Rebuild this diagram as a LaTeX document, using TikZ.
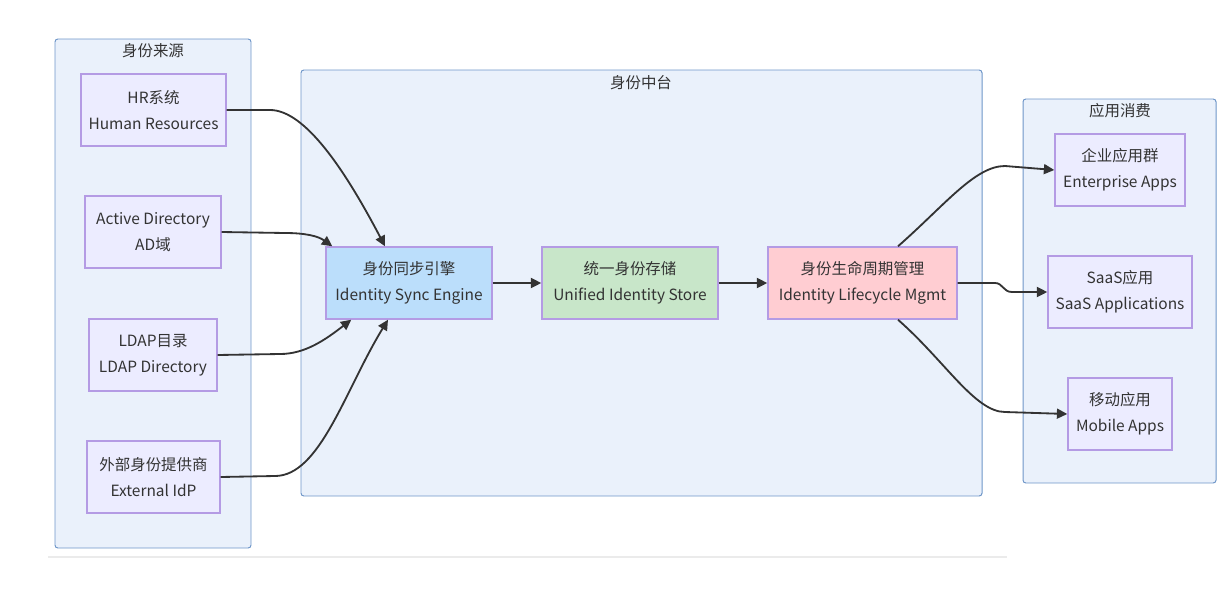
\documentclass[tikz,border=0pt]{standalone}
\usepackage{fontspec}
\setmainfont{Noto Sans CJK SC}
\usepackage{tikz}
\usetikzlibrary{arrows.meta, calc}
\definecolor{ink}{RGB}{51, 51, 51}
\definecolor{groupfill}{RGB}{234, 241, 251}
\definecolor{groupline}{RGB}{110, 150, 200}
\definecolor{nodefill}{RGB}{236, 236, 255}
\definecolor{nodeline}{RGB}{180, 155, 228}
\definecolor{syncfill}{RGB}{187, 222, 251}
\definecolor{storefill}{RGB}{200, 230, 201}
\definecolor{lifefill}{RGB}{255, 205, 210}

\begin{document}
\begin{tikzpicture}[x=0.025cm, y=-0.025cm, text=ink,
    font=\fontsize{11}{18.5}\selectfont,
    cluster/.style={draw=groupline, fill=groupfill, rounded corners=2pt, line width=0.7pt},
    item/.style={draw=nodeline, fill=nodefill, line width=1pt, align=center,
      minimum height=1.8cm, inner sep=0pt},
    link/.style={draw=ink, line width=1.3pt, -{Triangle[length=2.6mm, width=2.5mm]}}]

  \useasboundingbox (0, 0) rectangle (1224, 612);

  \draw[black!8, line width=1.2pt] (48, 557) -- (1007, 557);

  % groups
  \draw[cluster] (55, 39) rectangle (251, 548);
  \node (srctitle) at (153, 51) {身份来源};

  \draw[cluster] (301, 70) rectangle (982, 496);
  \node (midtitle) at (641, 83) {身份中台};

  \draw[cluster] (1023, 99) rectangle (1216, 483);
  \node (apptitle) at (1120, 111) {应用消费};

  % sources
  \node[item, minimum width=3.625cm] (hr) at (153.5, 110) {HR系统\\Human Resources};
  \node[item, minimum width=3.4cm] (ad) at (153, 232) {Active Directory\\AD域};
  \node[item, minimum width=3.2cm] (ldap) at (153, 355) {LDAP目录\\LDAP Directory};
  \node[item, minimum width=3.325cm] (ext) at (153.5, 477) {外部身份提供商\\External IdP};

  % platform
  \node[item, fill=syncfill, minimum width=4.15cm] (sync) at (409, 283) {身份同步引擎\\Identity Sync Engine};
  \node[item, fill=storefill, minimum width=4.4cm] (store) at (630, 283) {统一身份存储\\Unified Identity Store};
  \node[item, fill=lifefill, minimum width=4.725cm] (life) at (862.5, 283) {身份生命周期管理\\Identity Lifecycle Mgmt};

  % consumers
  \node[item, minimum width=3.25cm] (ent) at (1120, 170) {企业应用群\\Enterprise Apps};
  \node[item, minimum width=3.6cm] (saas) at (1120, 292) {SaaS应用\\SaaS Applications};
  \node[item, minimum width=2.6cm] (mob) at (1120, 414) {移动应用\\Mobile Apps};

  \draw[link] (hr.east) -- (270, 110) .. controls (305, 110) and (345, 170) .. ($(sync.north)+(-24, 0)$);
  \draw[link] (ad.east) -- (285, 233) .. controls (305, 233) and (318, 236) .. ($(sync.north west)+(7, 0)$);
  \draw[link] (ldap.east) -- (280, 354) .. controls (305, 354) and (325, 340) .. ($(sync.south west)+(26, 0)$);
  \draw[link] (ext.east) -- (275, 476) .. controls (320, 476) and (345, 390) .. ($(sync.south)+(-21, 0)$);

  \draw[link] (sync) -- (store);
  \draw[link] (store) -- (life);

  \draw[link] ($(life.north)+(35.5, 0)$) .. controls (945, 205) and (975, 166) .. (1005, 166) -- (ent.west);
  \draw[link] (life.east) -- (995, 283) .. controls (1003, 283) and (1003, 292) .. (1012, 292) -- (saas.west);
  \draw[link] ($(life.south)+(35.5, 0)$) .. controls (945, 361) and (975, 412) .. (1005, 412) -- (mob.west);

\end{tikzpicture}
\end{document}
